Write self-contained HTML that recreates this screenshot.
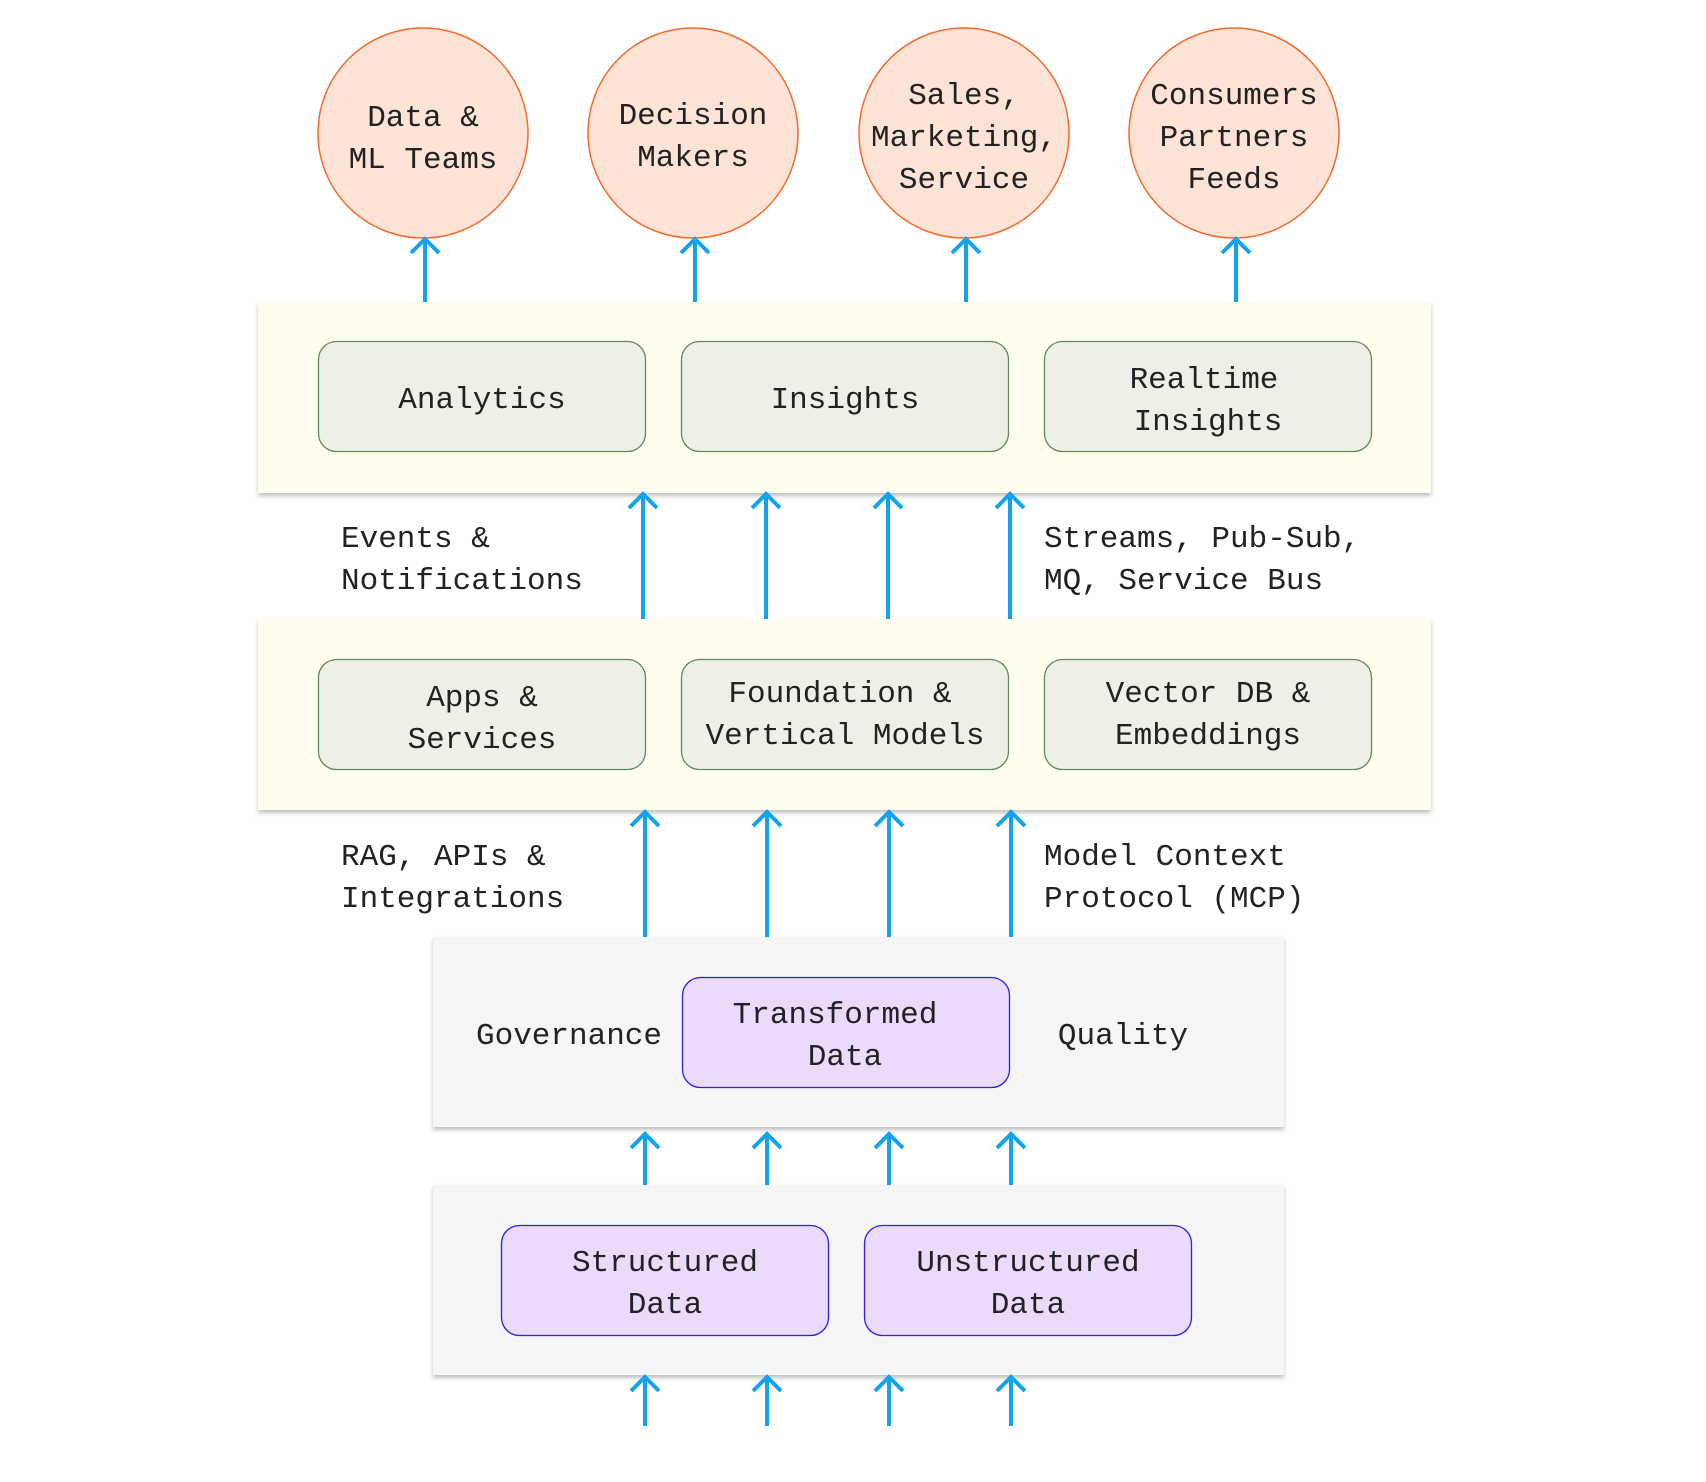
<!DOCTYPE html>
<html><head><meta charset="utf-8"><style>
html,body{margin:0;padding:0;background:#fff;}
svg{display:block}
text{font-family:"Liberation Mono","DejaVu Sans Mono",monospace;font-size:31px;fill:#222;}
</style></head><body>
<svg width="1706" height="1482" viewBox="0 0 1706 1482" xmlns="http://www.w3.org/2000/svg">
<defs>
<filter id="sh" x="-5%" y="-5%" width="110%" height="120%">
<feDropShadow dx="0" dy="3" stdDeviation="2" flood-color="#000" flood-opacity="0.25"/>
</filter>
<g id="ar"><line x1="0" y1="0" x2="0" y2="200" stroke="#12a3ec" stroke-width="4"/><polyline points="-14,15 0,1 14,15" fill="none" stroke="#12a3ec" stroke-width="4"/></g>
</defs>

<!-- circles -->
<g fill="#fce3d6" stroke="#f26a2a" stroke-width="1.5">
<circle cx="423" cy="133" r="105"/><circle cx="693" cy="133" r="105"/>
<circle cx="964" cy="133" r="105"/><circle cx="1234" cy="133" r="105"/>
</g>
<g text-anchor="middle">
<text x="423" y="126">Data &amp;</text><text x="423" y="168">ML Teams</text>
<text x="693" y="124">Decision</text><text x="693" y="166">Makers</text>
<text x="964" y="104">Sales,</text><text x="964" y="146">Marketing,</text><text x="964" y="188">Service</text>
<text x="1234" y="104">Consumers</text><text x="1234" y="146">Partners</text><text x="1234" y="188">Feeds</text>
</g>

<!-- top arrows -->
<svg overflow="visible"><g>
<line x1="425" y1="239" x2="425" y2="302" stroke="#12a3ec" stroke-width="4"/><polyline points="411,253 425,239 439,253" fill="none" stroke="#12a3ec" stroke-width="4"/>
<line x1="695" y1="239" x2="695" y2="302" stroke="#12a3ec" stroke-width="4"/><polyline points="681,253 695,239 709,253" fill="none" stroke="#12a3ec" stroke-width="4"/>
<line x1="966" y1="239" x2="966" y2="302" stroke="#12a3ec" stroke-width="4"/><polyline points="952,253 966,239 980,253" fill="none" stroke="#12a3ec" stroke-width="4"/>
<line x1="1236" y1="239" x2="1236" y2="302" stroke="#12a3ec" stroke-width="4"/><polyline points="1222,253 1236,239 1250,253" fill="none" stroke="#12a3ec" stroke-width="4"/>
</g></svg>

<!-- band 1 -->
<rect x="258" y="302" width="1173" height="191" fill="#fefdee" filter="url(#sh)"/>
<g fill="#eef0e8" stroke="#5f8a5c" stroke-width="1.3">
<rect x="318.5" y="341.5" width="327" height="110" rx="18"/>
<rect x="681.5" y="341.5" width="327" height="110" rx="18"/>
<rect x="1044.5" y="341.5" width="327" height="110" rx="18"/>
</g>
<g text-anchor="middle">
<text x="482" y="408">Analytics</text>
<text x="845" y="408">Insights</text>
<text x="1204" y="388">Realtime</text><text x="1208" y="430">Insights</text>
</g>

<!-- arrows band2 -> band1 -->
<g stroke="#12a3ec" stroke-width="4" fill="none">
<line x1="643" y1="494" x2="643" y2="619"/><polyline points="629,508 643,494 657,508"/>
<line x1="766" y1="494" x2="766" y2="619"/><polyline points="752,508 766,494 780,508"/>
<line x1="888" y1="494" x2="888" y2="619"/><polyline points="874,508 888,494 902,508"/>
<line x1="1010" y1="494" x2="1010" y2="619"/><polyline points="996,508 1010,494 1024,508"/>
</g>
<text x="341" y="547">Events &amp;</text><text x="341" y="589">Notifications</text>
<text x="1044" y="547">Streams, Pub-Sub,</text><text x="1044" y="589">MQ, Service Bus</text>

<!-- band 2 -->
<rect x="258" y="619" width="1173" height="191" fill="#fefdee" filter="url(#sh)"/>
<g fill="#eef0e8" stroke="#5f8a5c" stroke-width="1.3">
<rect x="318.5" y="659.5" width="327" height="110" rx="18"/>
<rect x="681.5" y="659.5" width="327" height="110" rx="18"/>
<rect x="1044.5" y="659.5" width="327" height="110" rx="18"/>
</g>
<g text-anchor="middle">
<text x="482" y="706">Apps &amp;</text><text x="482" y="748">Services</text>
<text x="840" y="702">Foundation &amp;</text><text x="845" y="744">Vertical Models</text>
<text x="1208" y="702">Vector DB &amp;</text><text x="1208" y="744">Embeddings</text>
</g>

<!-- arrows band3 -> band2 -->
<g stroke="#12a3ec" stroke-width="4" fill="none">
<line x1="645" y1="812" x2="645" y2="937"/><polyline points="631,826 645,812 659,826"/>
<line x1="767" y1="812" x2="767" y2="937"/><polyline points="753,826 767,812 781,826"/>
<line x1="889" y1="812" x2="889" y2="937"/><polyline points="875,826 889,812 903,826"/>
<line x1="1011" y1="812" x2="1011" y2="937"/><polyline points="997,826 1011,812 1025,826"/>
</g>
<text x="341" y="865">RAG, APIs &amp;</text><text x="341" y="907">Integrations</text>
<text x="1044" y="865">Model Context</text><text x="1044" y="907">Protocol (MCP)</text>

<!-- band 3 -->
<rect x="433" y="937" width="851" height="190" fill="#f5f5f5" filter="url(#sh)"/>
<rect x="682.5" y="977.5" width="327" height="110" rx="18" fill="#ecdafd" stroke="#2a1ff0" stroke-width="1.3"/>
<g text-anchor="middle">
<text x="569" y="1044">Governance</text>
<text x="835" y="1023">Transformed</text><text x="845" y="1065">Data</text>
<text x="1123" y="1044">Quality</text>
</g>

<!-- arrows band4 -> band3 -->
<g stroke="#12a3ec" stroke-width="4" fill="none">
<line x1="645" y1="1134" x2="645" y2="1185"/><polyline points="631,1148 645,1134 659,1148"/>
<line x1="767" y1="1134" x2="767" y2="1185"/><polyline points="753,1148 767,1134 781,1148"/>
<line x1="889" y1="1134" x2="889" y2="1185"/><polyline points="875,1148 889,1134 903,1148"/>
<line x1="1011" y1="1134" x2="1011" y2="1185"/><polyline points="997,1148 1011,1134 1025,1148"/>
</g>

<!-- band 4 -->
<rect x="433" y="1185" width="851" height="190" fill="#f5f5f5" filter="url(#sh)"/>
<g fill="#ecdafd" stroke="#2a1ff0" stroke-width="1.3">
<rect x="501.5" y="1225.5" width="327" height="110" rx="18"/>
<rect x="864.5" y="1225.5" width="327" height="110" rx="18"/>
</g>
<g text-anchor="middle">
<text x="665" y="1271">Structured</text><text x="665" y="1313">Data</text>
<text x="1028" y="1271">Unstructured</text><text x="1028" y="1313">Data</text>
</g>

<!-- bottom arrows -->
<g stroke="#12a3ec" stroke-width="4" fill="none">
<line x1="645" y1="1377" x2="645" y2="1426"/><polyline points="631,1391 645,1377 659,1391"/>
<line x1="767" y1="1377" x2="767" y2="1426"/><polyline points="753,1391 767,1377 781,1391"/>
<line x1="889" y1="1377" x2="889" y2="1426"/><polyline points="875,1391 889,1377 903,1391"/>
<line x1="1011" y1="1377" x2="1011" y2="1426"/><polyline points="997,1391 1011,1377 1025,1391"/>
</g>
</svg>
</body></html>
